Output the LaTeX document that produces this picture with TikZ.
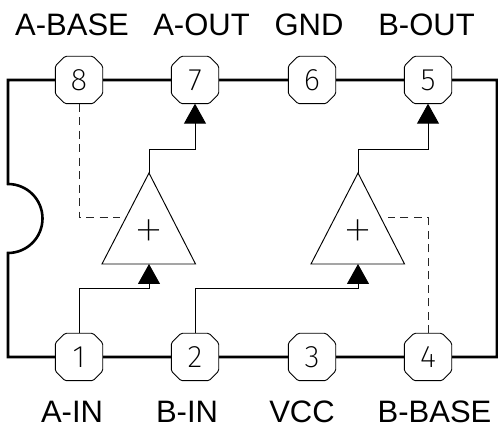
\documentclass[tikz,border=0pt]{standalone}
\usepackage{fontspec}
\usetikzlibrary{arrows.meta}
\setmainfont{Liberation Sans}
\newfontfamily\thinf{Fira Sans ExtraLight}
\newfontfamily\hairf{Fira Sans Thin}
\tikzset{
  x=1pt,y=1pt,
  pinbox/.style={fill=white,minimum width=47pt,minimum height=47pt,inner sep=0pt,font=\thinf\fontsize{31}{31}\selectfont},
  pinline/.style={draw=black,line width=0.9pt,line join=round},
  lbl/.style={inner sep=0pt,font=\fontsize{31}{31}\selectfont},
  body/.style={line width=2.6pt,line join=miter},
  wire/.style={line width=0.95pt,line join=miter},
  sig/.style={wire,-{Triangle[length=20pt,width=22pt]}},
  dash wire/.style={line width=1pt,draw=black!85,dash pattern=on 8pt off 5.5pt},
  amp/.style={line width=0.95pt,line join=miter,fill=white},
  plus/.style={inner sep=0pt,font=\hairf\fontsize{64}{64}\selectfont}
}
\begin{document}
\begin{tikzpicture}
\useasboundingbox (0,0) rectangle (498,428);
% pins
\coordinate (tl) at (8,348);
\coordinate (nt) at (8,244);
\coordinate (bl) at (8,71);
\coordinate (tr) at (497,348);
\coordinate (br) at (497,71);
\path (79,348) coordinate (c8) (195,348) coordinate (c7) (312,348) coordinate (c6) (428,348) coordinate (c5)
      (79,71) coordinate (c1) (195,71) coordinate (c2) (312,71) coordinate (c3) (428,71) coordinate (c4);
% body
\draw[body] (c8) -- (tl) -- (nt) arc[start angle=90,end angle=-90,radius=34.5] -- (bl) -- (c1) -- (c4) -- (br) -- (tr) -- (c8);
\foreach \n/\t in {c8/8,c7/7,c6/6,c5/5,c1/1,c2/2,c3/3,c4/4}{
  \node[pinbox] (p\t) at (\n) {\t};
  \draw[pinline,rounded corners=1.5pt] ([xshift=-14pt]p\t.north) -- ([xshift=14pt]p\t.north) -- ([yshift=14pt]p\t.east) -- ([yshift=-14pt]p\t.east) -- ([xshift=14pt]p\t.south) -- ([xshift=-14pt]p\t.south) -- ([yshift=-14pt]p\t.west) -- ([yshift=14pt]p\t.west) -- cycle;
}
% amplifiers
\coordinate (aapex) at (149,255);
\coordinate (bapex) at (358,255);
\coordinate (ain) at (149,164);
\coordinate (bin) at (358,164);
\coordinate (afb) at (120,210);
\coordinate (bfb) at (388,210);
\draw[amp] (aapex) -- (102,164) -- (195.5,164) -- cycle;
\draw[amp] (bapex) -- (311,164) -- (404.5,164) -- cycle;
\node[plus] (pa) at (149,192) {+};
\node[plus] (pb) at (358,192) {+};
% connectors
\draw[sig] (aapex) |- (p7.south |- 0,279) -- (p7.south);
\draw[sig] (bapex) |- (p5.south |- 0,279) -- (p5.south);
\draw[sig] (p1.north) |- (ain |- 0,140) -- (ain);
\draw[sig] (p2.north) |- (bin |- 0,140) -- (bin);
\draw[dash wire] (p8.south) |- (afb);
\draw[dash wire] (p4.north) |- (bfb);
% labels
\node[lbl] (l8) at (72,403.5) {A-BASE};
\node[lbl] (l7) at (201.5,403.5) {A-OUT};
\node[lbl] (l6) at (309,403.5) {GND};
\node[lbl] (l5) at (426.5,403.5) {B-OUT};
\node[lbl] (l1) at (72,16.3) {A-IN};
\node[lbl] (l2) at (187,16.3) {B-IN};
\node[lbl] (l3) at (302,16.3) {VCC};
\node[lbl] (l4) at (434.5,16.3) {B-BASE};
\end{tikzpicture}
\end{document}
